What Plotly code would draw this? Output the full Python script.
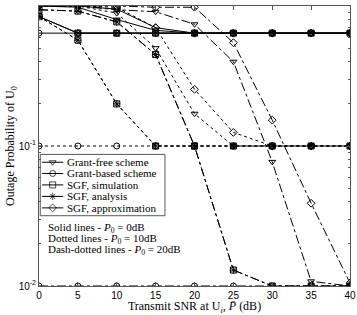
import plotly.graph_objects as go

snr = [0, 5, 10, 15, 20, 25, 30, 35, 40]

# Grant-free scheme (triangles)
gf_p0 = [1.0, 0.98, 0.80, 0.67, 0.64, 0.64, 0.64, 0.64, 0.64]
gf_p10 = [1.0, 1.0, 0.89, 0.50, 0.17, 0.10, 0.10, 0.10, 0.10]
gf_p20 = [1.0, 1.0, 0.94, 0.91, 0.74, 0.40, 0.077, 0.0108, 0.0100]

# Grant-based scheme (circles)
gb_p0 = [0.64] * 9
gb_p10 = [0.10] * 9
gb_p20 = [0.010] * 9

# SGF, simulation (squares) / analysis (asterisks)
sgf_p0 = [0.84, 0.64, 0.64, 0.64, 0.64, 0.64, 0.64, 0.64, 0.64]
sgf_p10 = [0.84, 0.57, 0.20, 0.10, 0.10, 0.10, 0.10, 0.10, 0.10]
sgf_p20 = [0.94, 0.92, 0.77, 0.45, 0.10, 0.013, 0.0100, 0.0100, 0.0100]

# SGF, approximation (diamonds)
apx_p0 = [1.0, 1.0, 0.95, 0.70, 0.64, 0.64, 0.64, 0.64, 0.64]
apx_p10 = [1.0, 1.0, 0.98, 0.70, 0.254, 0.125, 0.10, 0.10, 0.10]
apx_p20 = [1.0, 1.0, 1.0, 0.98, 0.98, 0.547, 0.153, 0.039, 0.0105]

legend_names = ["Grant-free scheme", "Grant-based scheme", "SGF, simulation",
                "SGF, analysis", "SGF, approximation"]
symbols = ["triangle-down-open", "circle-open", "square-open", "asterisk-open", "diamond-open"]
series = [
    [gf_p0, gf_p10, gf_p20],
    [gb_p0, gb_p10, gb_p20],
    [sgf_p0, sgf_p10, sgf_p20],
    [sgf_p0, sgf_p10, sgf_p20],
    [apx_p0, apx_p10, apx_p20],
]
dashes = ["solid", "dot", "dashdot"]
notes = ["Solid lines - <i>P</i><sub>0</sub> = 0dB",
         "Dotted lines - <i>P</i><sub>0</sub> = 10dB",
         "Dash-dotted lines - <i>P</i><sub>0</sub> = 20dB"]

SERIF = "Liberation Serif"
SANS = "Liberation Sans"
FRAME = "#555555"

fig = go.Figure()
for sym, group in zip(symbols, series):
    for vals, dash in zip(group, dashes):
        fig.add_trace(go.Scatter(
            x=snr, y=vals, mode="lines+markers", showlegend=False,
            line=dict(color="black", width=1, dash=dash),
            marker=dict(symbol=sym, size=6, color="black", line=dict(width=1, color="black")),
        ))

# legend box (drawn manually to match the compact reference legend)
box_x0, box_x1, box_y0, box_y1 = 0.004, 0.405, 0.251, 0.470
fig.add_shape(type="rect", xref="paper", yref="paper", x0=box_x0, x1=box_x1,
              y0=box_y0, y1=box_y1, line=dict(color=FRAME, width=1), fillcolor="white",
              layer="below")
entry_y = [0.442, 0.402, 0.361, 0.320, 0.279]
for name, sym, yy in zip(legend_names, symbols, entry_y):
    fig.add_trace(go.Scatter(
        x=[0.010, 0.044, 0.078], y=[yy, yy, yy], xaxis="x2", yaxis="y2",
        mode="lines+markers", showlegend=False, hoverinfo="skip",
        line=dict(color="black", width=1),
        marker=dict(symbol=sym, size=[0, 6, 0], color="black", line=dict(width=1, color="black")),
    ))
    fig.add_annotation(text=name, xref="paper", yref="paper", x=0.083, y=yy,
                       xanchor="left", yanchor="middle", showarrow=False,
                       font=dict(family=SERIF, size=11, color="black"))

for t, yy in zip(notes, [0.206, 0.167, 0.128]):
    fig.add_annotation(text=t, xref="paper", yref="paper", x=0.022, y=yy,
                       xanchor="left", yanchor="middle", showarrow=False,
                       font=dict(family=SERIF, size=11, color="black"))

fig.update_layout(
    width=357, height=315,
    margin=dict(l=39, r=7, t=6, b=29),
    paper_bgcolor="white", plot_bgcolor="white",
    showlegend=False,
    xaxis2=dict(overlaying="x", range=[0, 1], visible=False, fixedrange=True),
    yaxis2=dict(overlaying="y", range=[0, 1], visible=False, fixedrange=True),
)
fig.layout.xaxis.update(
    range=[0, 40], tickvals=[0, 5, 10, 15, 20, 25, 30, 35, 40], automargin=False,
    ticks="inside", ticklen=4, tickcolor=FRAME, mirror="ticks",
    showline=True, linecolor=FRAME, linewidth=1, showgrid=False, zeroline=False,
    tickfont=dict(family=SANS, size=10, color="black"),
    title=dict(text="Transmit SNR at U<sub><i>i</i></sub>, <i>P̄</i> (dB)",
               font=dict(family=SERIF, size=12, color="black"), standoff=0),
)
fig.layout.yaxis.update(
    type="log", range=[-2, 0], tickvals=[1, 0.1, 0.01], automargin=False,
    ticktext=["10<sup>0</sup>", "10<sup>-1</sup>", "10<sup>-2</sup>"],
    ticks="inside", ticklen=4, tickcolor=FRAME, mirror="ticks",
    minor=dict(ticks="inside", ticklen=2, dtick="D1", tickcolor=FRAME),
    showline=True, linecolor=FRAME, linewidth=1, showgrid=False, zeroline=False,
    tickfont=dict(family=SANS, size=10, color="black"),
    title=dict(text="Outage Probability of U<sub>0</sub>",
               font=dict(family=SERIF, size=12, color="black"), standoff=0),
)

fig.write_html("out.html", config={"displayModeBar": False},
               post_script="document.body.style.margin='0';document.body.style.overflow='hidden';")
